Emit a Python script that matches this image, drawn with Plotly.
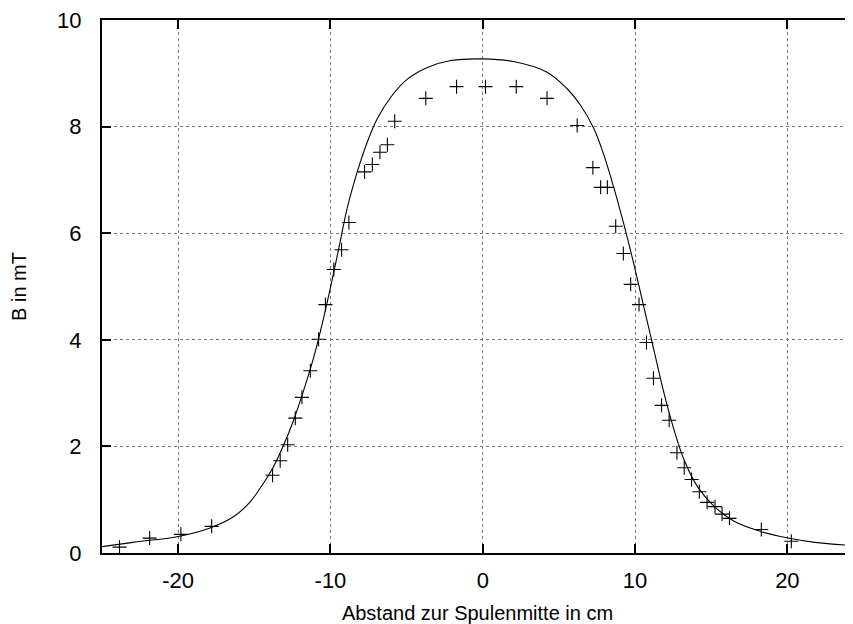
import plotly.graph_objects as go

# Measured data points (x in cm, B in mT)
meas_x = [-23.85, -21.87, -19.82, -17.8, -13.8, -13.3, -12.81, -12.31, -11.87, -11.32,
          -10.78, -10.33, -9.78, -9.27, -8.79, -7.76, -7.25, -6.75, -6.26, -5.78,
          -3.74, -1.72, 0.18, 2.2, 4.22, 6.2, 7.23, 7.74, 8.18, 8.73,
          9.23, 9.71, 10.26, 10.75, 11.21, 11.74, 12.24, 12.75, 13.23, 13.71,
          14.22, 14.73, 15.25, 15.71, 16.2, 18.29, 20.26]
meas_b = [0.11, 0.28, 0.35, 0.50, 1.46, 1.73, 2.03, 2.53, 2.92, 3.42,
          4.01, 4.66, 5.32, 5.69, 6.20, 7.15, 7.29, 7.52, 7.66, 8.10,
          8.53, 8.75, 8.75, 8.75, 8.53, 8.02, 7.23, 6.86, 6.86, 6.13,
          5.62, 5.04, 4.66, 3.95, 3.28, 2.77, 2.49, 1.88, 1.60, 1.38,
          1.15, 0.95, 0.87, 0.73, 0.65, 0.44, 0.22]

# Theory curve, values
curve_x = [-25.0, -22.97, -20.0, -17.91, -16.37, -15.27, -14.40, -13.74, -13.08, -12.42,
           -11.76, -11.10, -10.55, -10.0, -9.45, -8.90, -8.24, -7.58, -6.92, -6.04,
           -4.95, -3.63, -2.09, 0.0, 2.02, 4.22, 5.54, 6.42, 7.30, 7.96,
           8.62, 9.27, 9.93, 10.59, 11.25, 11.91, 12.57, 13.23, 14.11, 15.21,
           16.53, 18.29, 20.04, 21.80, 24.33]
curve_b = [0.12, 0.20, 0.31, 0.47, 0.68, 0.96, 1.31, 1.62, 2.02, 2.49,
           3.05, 3.67, 4.29, 4.98, 5.72, 6.47, 7.15, 7.71, 8.15, 8.55,
           8.89, 9.11, 9.24, 9.27, 9.22, 9.02, 8.71, 8.40, 7.96, 7.46,
           6.84, 6.16, 5.41, 4.60, 3.79, 2.99, 2.30, 1.74, 1.24, 0.87,
           0.59, 0.40, 0.28, 0.20, 0.14]

x_ticks = [-20, -10, 0, 10, 20]
x_labels = ["-20", "-10", "0", "10", "20"]
y_ticks = [0, 2, 4, 6, 8, 10]
y_labels = ["0", "2", "4", "6", "8", "10"]

FONT = "Liberation Sans, Arial, Helvetica, sans-serif"

fig = go.Figure()
fig.add_trace(go.Scatter(x=curve_x, y=curve_b, mode="lines",
                         line=dict(color="black", width=1.1, shape="spline", smoothing=1.0),
                         showlegend=False, hoverinfo="skip"))
fig.add_trace(go.Scatter(x=meas_x, y=meas_b, mode="markers",
                         marker=dict(symbol="cross-thin", size=10,
                                     line=dict(color="black", width=1.1)),
                         showlegend=False))

fig.update_layout(
    width=845, height=616,
    margin=dict(l=94, r=0, t=10, b=71),
    paper_bgcolor="white", plot_bgcolor="white",
    font=dict(family=FONT, size=20, color="black"),
    xaxis=dict(range=[-25, 24.31], tickvals=x_ticks, ticktext=x_labels,
               ticks="inside", ticklen=9, tickwidth=2, tickcolor="black",
               tickfont=dict(size=22), ticklabeloverflow="allow",
               showline=True, linecolor="black", linewidth=2, mirror="ticks",
               showgrid=True, gridcolor="#777777", griddash="dot", gridwidth=1,
               zeroline=False, ticklabelstandoff=7,
               title=dict(text="Abstand zur Spulenmitte in cm", standoff=14,
                          font=dict(size=20))),
    yaxis=dict(range=[0, 10], tickvals=y_ticks, ticktext=y_labels,
               ticks="inside", ticklen=9, tickwidth=2, tickcolor="black",
               tickfont=dict(size=22), ticklabeloverflow="allow",
               showline=True, linecolor="black", linewidth=2, mirror=False,
               showgrid=True, gridcolor="#777777", griddash="dot", gridwidth=1,
               zeroline=False, ticklabelstandoff=14,
               title=dict(text="B in mT", standoff=35, font=dict(size=20))),
)

fig.write_html("out.html")
